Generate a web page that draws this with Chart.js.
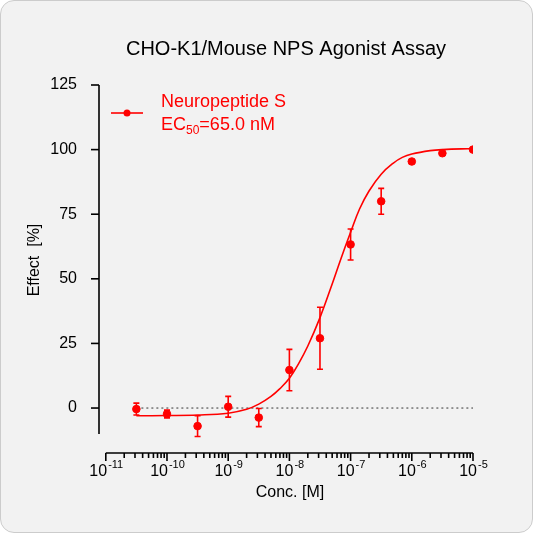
<!DOCTYPE html><html><head><meta charset="utf-8">
<script src="https://cdn.jsdelivr.net/npm/chart.js@4"></script>
<style>html,body{margin:0;padding:0;background:#fff}#w{width:533px;height:533px;position:relative;background:#f2f2f2;border-radius:14px;box-sizing:border-box;border:1px solid #ccc;overflow:hidden}canvas{position:absolute;left:0;top:0}</style></head><body>
<div id="w"><canvas id="c" width="533" height="533"></canvas></div>
<script>
const concs=[3.16e-11,1e-10,3.16e-10,1e-9,3.16e-9,1e-8,3.16e-8,1e-7,3.16e-7,1e-6,3.16e-6,1e-5];
const effect=[-0.4,-2.3,-7,0.5,-3.7,14.7,27,63.3,80,95.4,98.6,100];
const errs=[2.3,1.5,4,4,3.5,8,12,6,5,0.8,0.6,0.5];
const curveX=[3.16e-11,1e-10,3.16e-10,1e-9,2e-9,3.16e-9,5e-9,7e-9,1e-8,1.4e-8,2e-8,3.16e-8,5e-8,7e-8,1e-7,1.4e-7,2e-7,3.16e-7,5e-7,7e-7,1e-6,2e-6,3.16e-6,1e-5];
const curveY=[-3,-2.9,-2.7,-2,-0.5,1.5,4.5,7.5,11.5,17,24,35,48,58,68,77,84,90.5,94.8,97,98.3,99.6,100,100.4];
const yTicks=[0,25,50,75,100,125];
const xMajor=[-11,-10,-9,-8,-7,-6,-5];
const red='#ff0000';
const F='"Liberation Sans", Arial, sans-serif';
const xTickVals=[];xMajor.forEach((e,i)=>{xTickVals.push(Math.pow(10,e));if(i<xMajor.length-1)for(let k=2;k<10;k++)xTickVals.push(k*Math.pow(10,e));});
const deco={id:'deco',
 beforeDatasetsDraw(ch){const {ctx,scales:{x,y}}=ch;ctx.save();
  ctx.strokeStyle='#333';ctx.lineWidth=1;ctx.setLineDash([2,3]);
  const y0=y.getPixelForValue(0);ctx.beginPath();ctx.moveTo(x.getPixelForValue(concs[0]),y0);ctx.lineTo(x.getPixelForValue(1e-5),y0);ctx.stroke();ctx.setLineDash([]);
  ctx.strokeStyle='#000';ctx.lineWidth=1.6;
  const ax=ch.chartArea.left;ctx.beginPath();ctx.moveTo(ax,y.getPixelForValue(125));ctx.lineTo(ax,y.getPixelForValue(-10));ctx.stroke();
  yTicks.forEach(v=>{const p=y.getPixelForValue(v);ctx.beginPath();ctx.moveTo(ax-8,p);ctx.lineTo(ax,p);ctx.stroke();});
  const by=ch.chartArea.bottom;ctx.beginPath();ctx.moveTo(x.getPixelForValue(1e-11),by);ctx.lineTo(x.getPixelForValue(1e-5),by);ctx.stroke();
  xTickVals.forEach(v=>{const p=x.getPixelForValue(v);const maj=Math.abs(Math.log10(v)-Math.round(Math.log10(v)))<1e-9;ctx.beginPath();ctx.moveTo(p,by);ctx.lineTo(p,by+(maj?8:5));ctx.stroke();});
  ctx.fillStyle='#000';ctx.textBaseline='alphabetic';
  xMajor.forEach(e=>{const p=x.getPixelForValue(Math.pow(10,e));ctx.font='16px '+F;const w1=ctx.measureText('10').width;ctx.font='11px '+F;const s=String(e);const w2=ctx.measureText(s).width;const l=p-(w1+w2)/2;ctx.font='16px '+F;ctx.textAlign='left';ctx.fillText('10',l,475);ctx.font='11px '+F;ctx.fillText(s,l+w1+1,467);});
  ctx.strokeStyle=red;ctx.lineWidth=1.6;
  concs.forEach((c,i)=>{const px=x.getPixelForValue(c),t=y.getPixelForValue(effect[i]+errs[i]),b=y.getPixelForValue(effect[i]-errs[i]);if(b-t<4)return;ctx.beginPath();ctx.moveTo(px,t);ctx.lineTo(px,b);ctx.moveTo(px-3,t);ctx.lineTo(px+3,t);ctx.moveTo(px-3,b);ctx.lineTo(px+3,b);ctx.stroke();});
  ctx.restore();},
 afterDraw(ch){const ctx=ch.ctx;ctx.save();ctx.fillStyle='#000';ctx.textAlign='center';ctx.textBaseline='middle';
  ctx.font='20px '+F;ctx.fillText('CHO-K1/Mouse NPS Agonist Assay',285,48);
  ctx.font='16px '+F;ctx.fillText('Conc. [M]',289,492);
  ctx.save();ctx.translate(34,259);ctx.rotate(-Math.PI/2);ctx.fillText('Effect  [%]',0,0);ctx.restore();
  ctx.strokeStyle=red;ctx.fillStyle=red;ctx.lineWidth=1.6;ctx.beginPath();ctx.moveTo(110,112);ctx.lineTo(142,112);ctx.stroke();
  ctx.beginPath();ctx.arc(126,112,3.5,0,7);ctx.fill();
  ctx.textAlign='left';ctx.font='18px '+F;ctx.fillText('Neuropeptide S',160,101);
  ctx.fillText('EC',160,124);let w=ctx.measureText('EC').width;ctx.font='12px '+F;ctx.fillText('50',160+w,130);let w2=ctx.measureText('50').width;ctx.font='18px '+F;ctx.fillText('=65.0 nM',160+w+w2,124);
  ctx.restore();}};
new Chart(document.getElementById('c'),{
 data:{datasets:[
  {type:'line',data:curveX.map((v,i)=>({x:v,y:curveY[i]})),borderColor:red,borderWidth:1.6,pointRadius:0,tension:0.4},
  {type:'scatter',data:concs.map((v,i)=>({x:v,y:effect[i]})),backgroundColor:red,borderColor:red,pointRadius:3.8}]},
 options:{responsive:false,animation:false,devicePixelRatio:1,
  layout:{padding:{left:0,top:84,right:61,bottom:0}},
  plugins:{legend:{display:false},tooltip:{enabled:false}},
  scales:{
   x:{type:'logarithmic',min:Math.pow(10,-11.111),max:1e-5,grid:{display:false},border:{display:false},
    afterBuildTicks:s=>{s.ticks=xMajor.map(e=>({value:Math.pow(10,e)}));},
    afterFit:s=>{s.height=81;},
    ticks:{display:false}},
   y:{min:-17.4,max:125,grid:{display:false},border:{display:false},
    afterBuildTicks:s=>{s.ticks=yTicks.map(v=>({value:v}));},
    afterFit:s=>{s.width=98;},
    ticks:{color:'#000',font:{family:F,size:16},padding:14}}}},
 plugins:[deco]});
</script></body></html>
